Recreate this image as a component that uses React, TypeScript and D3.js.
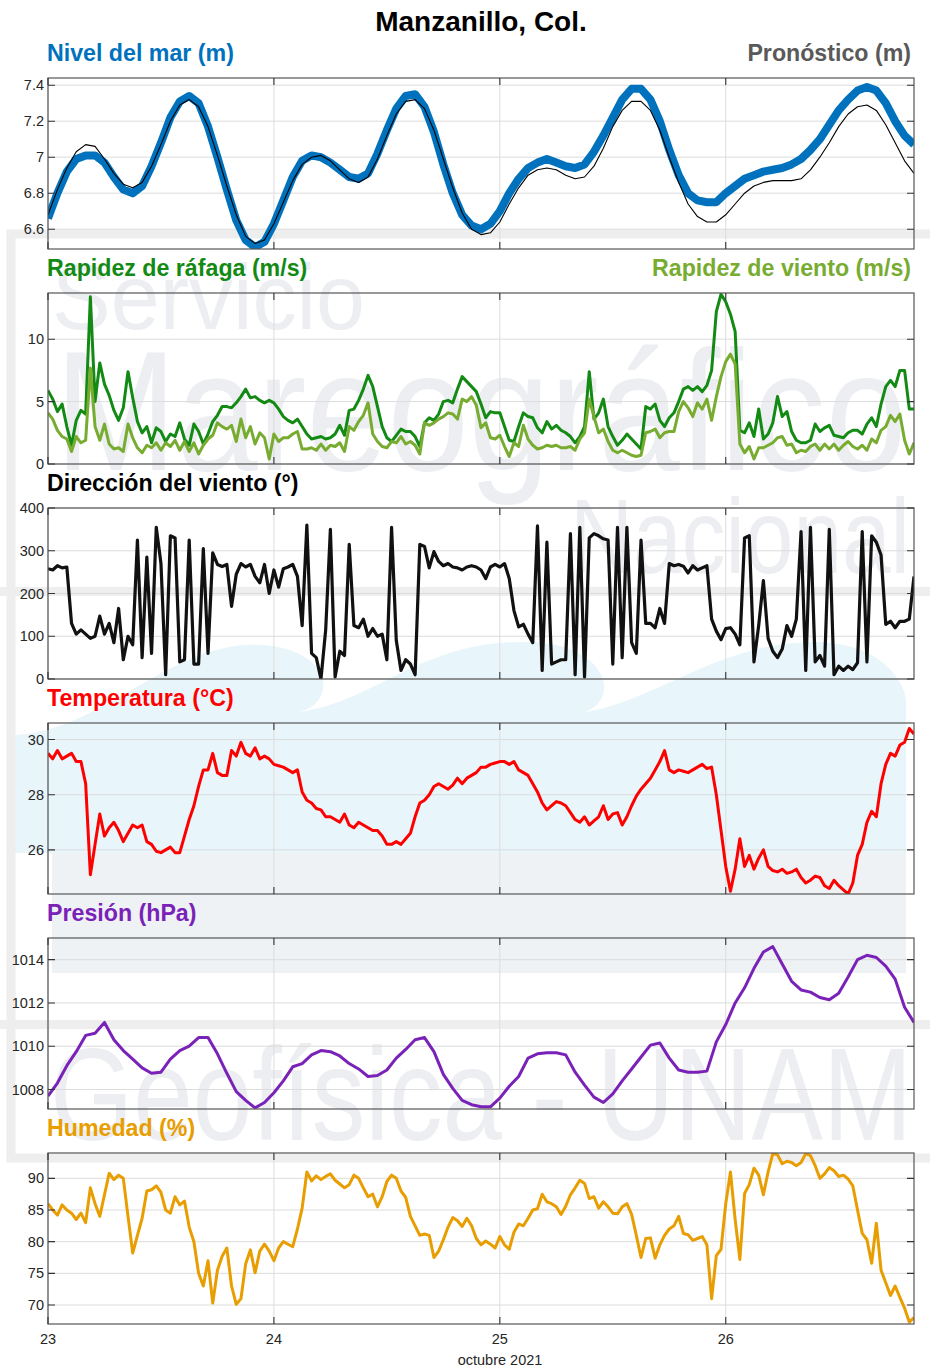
import React, { useEffect, useRef } from "react";
import * as d3 from "d3";

const start = new Date(2021, 9, 23, 0, 0);
const end = new Date(2021, 9, 26, 20, 0);

// nivel del mar observado y pronóstico, cada hora (m)
const seaLevel = [
  6.66, 6.8, 6.92, 6.99, 7.01, 7.01, 6.97, 6.89, 6.82, 6.8,
  6.84, 6.95, 7.08, 7.22, 7.31, 7.34, 7.3, 7.17, 7.0, 6.82,
  6.65, 6.54, 6.5, 6.53, 6.63, 6.76, 6.89, 6.98, 7.01, 7.0,
  6.97, 6.93, 6.89, 6.88, 6.91, 7.02, 7.15, 7.27, 7.34, 7.35,
  7.28, 7.14, 6.96, 6.8, 6.68, 6.62, 6.6, 6.63, 6.7, 6.8,
  6.88, 6.94, 6.97, 6.99, 6.97, 6.95, 6.94, 6.96, 7.03, 7.12,
  7.22, 7.32, 7.38, 7.38, 7.32, 7.2, 7.04, 6.9, 6.8, 6.76,
  6.75, 6.75, 6.8, 6.84, 6.88, 6.9, 6.92, 6.93, 6.94, 6.96,
  6.99, 7.04, 7.1, 7.18, 7.26, 7.32, 7.37, 7.39, 7.37, 7.3,
  7.2, 7.12, 7.07,
];
const tidePrediction = [
  6.68, 6.82, 6.94, 7.03, 7.07, 7.06, 6.99, 6.91, 6.85, 6.83,
  6.86, 6.95, 7.07, 7.2, 7.29, 7.32, 7.28, 7.17, 7.01, 6.84,
  6.68, 6.56, 6.52, 6.54, 6.63, 6.75, 6.87, 6.96, 7.0, 7.01,
  6.98, 6.93, 6.88, 6.86, 6.89, 6.99, 7.12, 7.24, 7.31, 7.32,
  7.27, 7.15, 6.99, 6.83, 6.69, 6.6, 6.57, 6.58, 6.64, 6.74,
  6.83, 6.9, 6.93, 6.94, 6.93, 6.9, 6.88, 6.89, 6.95, 7.05,
  7.17, 7.26, 7.31, 7.31, 7.26, 7.15, 7.0, 6.86, 6.74, 6.67,
  6.64, 6.64, 6.68, 6.74, 6.8, 6.84, 6.86, 6.87, 6.87, 6.87,
  6.88, 6.93, 7.0, 7.08, 7.17, 7.24, 7.28, 7.29, 7.26, 7.18,
  7.08, 6.98, 6.91,
];

// viento, cada 30 min (m/s)
const gustSpeed = [
  5.9, 5.2, 4.2, 4.8, 3.0, 1.5, 3.5, 4.3, 4.0, 13.4,
  5.0, 8.1, 6.4, 5.5, 4.3, 3.5, 4.5, 7.4, 5.3, 3.4,
  2.5, 3.0, 1.7, 2.9, 2.6, 1.8, 2.4, 2.2, 3.3, 2.0,
  1.5, 3.2, 2.6, 1.6, 2.4, 3.4, 3.9, 4.6, 4.6, 4.5,
  4.9, 5.4, 6.0, 5.3, 5.4, 5.1, 4.9, 5.1, 4.9, 4.4,
  3.8, 3.5, 3.3, 3.6, 3.0, 2.4, 2.0, 2.1, 2.2, 2.0,
  2.1, 2.4, 3.1, 2.3, 4.3, 4.4, 5.1, 6.0, 7.1, 6.2,
  4.6, 3.0, 2.1, 1.8, 2.3, 2.8, 2.6, 2.6, 2.2, 1.4,
  3.3, 3.7, 3.5, 4.0, 5.0, 5.1, 4.9, 6.0, 7.0, 6.6,
  6.2, 5.8, 4.8, 3.7, 4.2, 4.1, 4.1, 3.0, 1.9, 1.8,
  3.0, 4.1, 3.8, 3.7, 2.9, 2.5, 3.4, 2.8, 3.1, 2.7,
  2.5, 2.2, 1.7, 2.2, 3.0, 7.4, 3.6, 4.1, 5.2, 3.0,
  2.2, 1.5, 1.9, 2.4, 2.0, 1.6, 1.2, 4.6, 4.4, 4.8,
  3.5, 3.0, 3.7, 4.1, 5.0, 6.0, 6.2, 5.9, 6.2, 5.8,
  6.3, 7.5, 12.2, 13.6, 13.0, 12.0, 10.6, 2.7, 2.5, 3.3,
  2.2, 4.4, 2.0, 2.4, 3.3, 5.4, 3.8, 4.2, 2.6, 1.9,
  1.7, 1.7, 1.9, 3.2, 2.6, 2.9, 3.1, 2.3, 2.2, 2.1,
  2.5, 2.7, 2.7, 2.4, 3.2, 3.7, 3.0, 4.8, 6.2, 6.7,
  6.2, 7.5, 7.5, 4.4, 4.4,
];
const windSpeed = [
  4.1, 3.6, 2.7, 2.2, 2.0, 1.0, 2.2, 1.7, 1.9, 7.7,
  3.0, 1.9, 3.2, 1.6, 1.2, 1.3, 1.0, 3.2, 2.1, 1.3,
  0.9, 1.5, 1.3, 1.7, 1.1, 1.7, 1.4, 1.9, 1.1, 1.8,
  1.0, 1.7, 0.8, 1.5, 2.0, 2.3, 3.3, 3.0, 2.8, 3.1,
  1.8, 3.6, 2.1, 3.0, 1.6, 2.5, 2.1, 0.4, 2.4, 1.8,
  2.1, 2.1, 2.4, 2.6, 1.2, 1.2, 1.3, 1.1, 1.6, 1.1,
  1.5, 1.4, 1.7, 1.0, 3.0, 2.7, 3.4, 3.9, 4.9, 2.4,
  1.8, 1.4, 1.3, 1.8, 1.7, 2.2, 1.6, 1.8, 1.5, 0.8,
  3.3, 3.1, 3.3, 3.6, 3.8, 4.1, 4.0, 3.6, 5.2, 5.0,
  5.4, 4.7, 2.9, 3.3, 2.1, 2.0, 2.3, 1.4, 0.6, 1.7,
  1.4, 3.1, 2.0, 1.5, 1.2, 1.3, 1.5, 1.4, 1.5, 1.3,
  1.3, 1.4, 1.1, 2.0, 2.5, 5.2, 3.8, 2.5, 2.8, 1.8,
  1.1, 0.9, 1.1, 0.9, 0.7, 0.6, 0.7, 2.5, 2.6, 2.8,
  2.1, 2.5, 2.6, 2.6, 4.2, 5.0, 4.5, 3.8, 4.9, 4.4,
  5.2, 3.5, 5.4, 7.0, 8.2, 8.8, 8.0, 1.6, 0.9, 1.4,
  0.4, 1.3, 1.3, 1.5, 1.7, 2.1, 2.2, 1.5, 1.6, 0.9,
  1.1, 1.0, 1.4, 1.6, 1.1, 1.6, 1.2, 1.6, 1.1, 1.5,
  1.8, 1.4, 1.2, 1.5, 1.1, 2.0, 1.7, 2.7, 3.0, 3.9,
  3.4, 4.0, 1.9, 0.8, 1.7,
];

// dirección del viento, cada 30 min (°)
const windDirection = [
  258, 255, 265, 260, 262, 130, 105, 115, 105, 95,
  100, 147, 105, 130, 85, 165, 45, 100, 80, 325,
  50, 285, 60, 355, 270, 10, 335, 330, 40, 45,
  325, 35, 35, 305, 60, 295, 268, 263, 268, 170,
  245, 270, 262, 268, 240, 225, 268, 200, 255, 215,
  258, 262, 268, 240, 125, 360, 60, 50, 0, 115,
  350, 5, 65, 55, 315, 125, 120, 140, 100, 118,
  100, 105, 45, 355, 90, 20, 45, 35, 10, 315,
  310, 260, 298, 275, 265, 270, 262, 260, 255, 262,
  265, 262, 255, 235, 262, 268, 262, 270, 235, 160,
  122, 128, 105, 85, 358, 20, 320, 35, 40, 45,
  45, 340, 10, 355, 5, 330, 340, 335, 328, 325,
  35, 355, 50, 355, 85, 60, 325, 130, 130, 120,
  165, 130, 270, 265, 268, 264, 248, 265, 255, 260,
  265, 140, 112, 92, 118, 120, 105, 80, 330, 335,
  40, 125, 230, 95, 65, 50, 70, 125, 100, 140,
  345, 20, 355, 40, 55, 30, 350, 10, 30, 20,
  30, 22, 38, 345, 40, 335, 320, 290, 128, 135,
  120, 135, 135, 140, 240,
];

// temperatura, cada 30 min (°C)
const temperature = [
  29.5, 29.3, 29.6, 29.3, 29.4, 29.5, 29.2, 29.2, 28.4, 25.1,
  26.2, 27.3, 26.5, 26.8, 27.0, 26.7, 26.3, 26.6, 26.9, 26.8,
  26.9, 26.3, 26.2, 25.95, 25.9, 26.0, 26.1, 25.9, 25.9, 26.5,
  27.1, 27.6, 28.3, 28.9, 28.9, 29.5, 28.8, 28.7, 28.7, 29.6,
  29.4, 29.9, 29.5, 29.4, 29.7, 29.3, 29.4, 29.3, 29.1, 29.05,
  29.0, 28.9, 28.8, 28.9, 28.1, 27.8, 27.7, 27.5, 27.45, 27.2,
  27.2, 27.1, 27.0, 27.3, 26.9, 26.8, 27.0, 26.9, 26.8, 26.7,
  26.7, 26.5, 26.2, 26.2, 26.3, 26.2, 26.4, 26.6, 27.2, 27.7,
  27.8, 28.0, 28.3, 28.4, 28.3, 28.2, 28.35, 28.6, 28.4, 28.6,
  28.7, 28.8, 29.0, 29.0, 29.1, 29.15, 29.2, 29.2, 29.1, 29.2,
  28.9, 28.8, 28.7, 28.4, 28.1, 27.7, 27.45, 27.6, 27.75, 27.7,
  27.6, 27.35, 27.1, 27.0, 27.2, 26.9, 27.05, 27.2, 27.6, 27.1,
  27.3, 27.35, 26.9, 27.2, 27.6, 27.95, 28.2, 28.4, 28.6, 28.9,
  29.2, 29.6, 28.9, 28.8, 28.9, 28.85, 28.8, 28.9, 29.0, 29.1,
  28.95, 29.0, 28.0, 26.7, 25.4, 24.5, 25.3, 26.4, 25.4, 25.8,
  25.3, 25.7, 26.0, 25.4, 25.25, 25.2, 25.3, 25.15, 25.2, 25.3,
  25.0, 24.8, 24.9, 25.05, 25.0, 24.7, 24.6, 24.9, 24.7, 24.55,
  24.4, 24.8, 25.8, 26.2, 27.0, 27.4, 27.2, 28.4, 29.1, 29.5,
  29.4, 29.8, 29.9, 30.4, 30.2,
];

// presión, cada hora (hPa)
const pressure = [
  1007.7, 1008.3, 1009.1, 1009.75, 1010.5, 1010.6, 1011.1, 1010.3, 1009.8, 1009.4,
  1009.0, 1008.75, 1008.8, 1009.4, 1009.8, 1010.0, 1010.4, 1010.4, 1009.65, 1008.75,
  1007.9, 1007.5, 1007.15, 1007.4, 1007.85, 1008.4, 1009.05, 1009.2, 1009.6, 1009.8,
  1009.75, 1009.55, 1009.2, 1008.95, 1008.6, 1008.65, 1008.9, 1009.45, 1009.85, 1010.3,
  1010.4, 1009.75, 1008.7, 1008.05, 1007.5, 1007.3, 1007.2, 1007.2, 1007.6, 1008.15,
  1008.6, 1009.45, 1009.65, 1009.7, 1009.7, 1009.6, 1008.8, 1008.2, 1007.65, 1007.4,
  1007.8, 1008.4, 1008.95, 1009.5, 1010.05, 1010.15, 1009.45, 1008.9, 1008.8, 1008.8,
  1008.85, 1010.2, 1011.0, 1012.0, 1012.7, 1013.6, 1014.35, 1014.6, 1013.8, 1013.0,
  1012.6, 1012.5, 1012.25, 1012.15, 1012.45, 1013.2, 1014.0, 1014.2, 1014.1, 1013.7,
  1013.1, 1011.8, 1011.1,
];

// humedad, cada 30 min (%)
const humidity = [
  86.0, 85.0, 84.2, 85.8, 85.0, 84.5, 83.5, 84.5, 83.0, 88.5,
  86.0, 84.0, 87.4, 90.8, 89.8, 90.5, 90.0, 84.0, 78.2, 81.0,
  83.7, 88.0, 88.2, 88.8, 87.8, 85.0, 84.5, 87.1, 85.8, 86.4,
  82.3, 80.0, 75.0, 73.0, 77.0, 70.3, 75.5, 77.7, 79.0, 73.0,
  70.1, 71.0, 76.5, 78.7, 75.1, 78.5, 79.6, 78.5, 77.0, 79.0,
  80.0, 79.6, 79.2, 82.0, 85.3, 91.0, 89.6, 90.4, 89.8, 90.3,
  90.7, 89.7, 89.1, 88.5, 89.0, 90.5, 90.0, 88.5, 87.1, 87.5,
  85.5, 87.1, 89.5, 90.5, 90.0, 88.0, 87.0, 84.0, 82.5, 81.0,
  81.2, 81.0, 77.5, 78.5, 80.3, 82.3, 83.8, 83.3, 82.4, 83.7,
  82.5, 80.5, 79.5, 80.1, 79.6, 79.0, 80.8, 79.5, 78.8, 81.5,
  82.8, 82.5, 83.7, 85.0, 85.2, 87.5, 86.3, 86.0, 85.5, 84.3,
  85.6, 87.4, 88.5, 89.7, 89.2, 86.8, 87.1, 85.3, 86.3, 85.5,
  84.5, 84.4, 85.5, 86.0, 84.3, 81.0, 77.5, 80.5, 80.6, 77.4,
  79.5, 81.0, 82.0, 82.5, 84.0, 81.3, 81.1, 80.2, 80.5, 80.8,
  79.5, 71.0, 77.8, 78.8, 86.0, 91.0, 83.5, 77.2, 87.6, 89.0,
  91.6, 90.5, 87.4, 91.0, 93.9, 93.7, 92.3, 92.7, 92.5, 92.0,
  92.5, 93.9, 93.6, 92.0, 90.0, 90.7, 91.7, 91.2, 90.3, 90.5,
  89.9, 88.8, 85.0, 81.3, 80.3, 76.6, 82.9, 75.5, 73.5, 71.5,
  73.0, 71.2, 69.5, 67.3, 68.0,
];

const seaTicks = [6.6, 6.8, 7, 7.2, 7.4];
const windTicks = [0, 5, 10];
const dirTicks = [0, 100, 200, 300, 400];
const tempTicks = [26, 28, 30];
const presTicks = [1008, 1010, 1012, 1014];
const humTicks = [70, 75, 80, 85, 90];
const dayLabels = ["23", "24", "25", "26"];

const FONT = "'Liberation Sans', Arial, Helvetica, sans-serif";

const App = () => {
  const ref = useRef(null);

  useEffect(() => {
    const svg = d3.select(ref.current);
    svg.selectAll("*").remove();

    const left = 48;
    const right = 914;
    const panelH = 171;
    const x = d3.scaleTime().domain([start, end]).range([left, right]);
    const days = d3.timeDay.range(start, end);
    const hourly = (i) => d3.timeHour.offset(start, i);
    const halfHourly = (i) => d3.timeMinute.offset(start, 30 * i);

    // marca de agua del fondo
    const wm = svg.append("g");
    wm.append("path")
      .attr("d", "M 10 900 V 735 C 100 735 170 640 260 645 C 330 648 340 700 300 712 C 380 700 420 640 530 642 C 610 645 620 700 585 712 C 660 700 720 640 820 642 C 890 645 906 690 906 700 V 853 H 10 Z")
      .attr("fill", "#e8f5fb");
    wm.append("rect").attr("x", 52).attr("y", 853).attr("width", 854).attr("height", 120).attr("fill", "#eef2f5");
    wm.append("rect").attr("x", 11).attr("y", 234).attr("width", 940).attr("height", 924)
      .attr("fill", "none").attr("stroke", "#eeeeee").attr("stroke-width", 9);
    wm.append("rect").attr("x", 0).attr("y", 587).attr("width", 930).attr("height", 9).attr("fill", "#eeeeee");
    wm.append("rect").attr("x", 0).attr("y", 1020).attr("width", 930).attr("height", 9).attr("fill", "#eeeeee");
    const wmText = [
      { t: "Servicio", x: 52, y: 329, size: 92, len: 313 },
      { t: "Mareográfico", x: 55, y: 470, size: 170, len: 852 },
      { t: "Nacional", x: 570, y: 573, size: 106, len: 340 },
      { t: "Geofísica - UNAM", x: 50, y: 1140, size: 132, len: 862 },
    ];
    wm.selectAll("text.wm")
      .data(wmText)
      .join("text")
      .attr("class", "wm")
      .attr("x", (d) => d.x)
      .attr("y", (d) => d.y)
      .attr("font-size", (d) => d.size)
      .attr("textLength", (d) => d.len)
      .attr("lengthAdjust", "spacingAndGlyphs")
      .attr("font-family", FONT)
      .attr("fill", "#eceef1")
      .text((d) => d.t);

    svg.append("text")
      .attr("x", 481)
      .attr("y", 31)
      .attr("text-anchor", "middle")
      .attr("font-family", FONT)
      .attr("font-size", 28)
      .attr("font-weight", "bold")
      .attr("fill", "#000")
      .text("Manzanillo, Col.");

    const panels = [
      {
        top: 78, domain: [6.49, 7.44], ticks: seaTicks,
        title: "Nivel del mar (m)", titleColor: "#0072BD",
        title2: "Pronóstico (m)", title2Color: "#595959",
        lines: [
          { values: seaLevel, time: hourly, color: "#0072BD", width: 8 },
          { values: tidePrediction, time: hourly, color: "#000000", width: 1.1 },
        ],
      },
      {
        top: 293, domain: [0, 13.7], ticks: windTicks,
        title: "Rapidez de ráfaga (m/s)", titleColor: "#138a13",
        title2: "Rapidez de viento (m/s)", title2Color: "#77AC30",
        lines: [
          { values: gustSpeed, time: halfHourly, color: "#138a13", width: 3 },
          { values: windSpeed, time: halfHourly, color: "#77AC30", width: 3 },
        ],
      },
      {
        top: 508, domain: [0, 400], ticks: dirTicks,
        title: "Dirección del viento (°)", titleColor: "#000000",
        lines: [{ values: windDirection, time: halfHourly, color: "#111111", width: 3.2 }],
      },
      {
        top: 723, domain: [24.4, 30.6], ticks: tempTicks,
        title: "Temperatura (°C)", titleColor: "#ff0000",
        lines: [{ values: temperature, time: halfHourly, color: "#ff0000", width: 3 }],
      },
      {
        top: 938, domain: [1007.1, 1015.0], ticks: presTicks,
        title: "Presión (hPa)", titleColor: "#7a22b8",
        lines: [{ values: pressure, time: hourly, color: "#7a22b8", width: 3 }],
      },
      {
        top: 1153, domain: [67, 94], ticks: humTicks,
        title: "Humedad (%)", titleColor: "#e89d00",
        lines: [{ values: humidity, time: halfHourly, color: "#e89d00", width: 3 }],
      },
    ];

    panels.forEach((p, k) => {
      const top = p.top;
      const bottom = top + panelH;
      const y = d3.scaleLinear().domain(p.domain).range([bottom, top]);
      const g = svg.append("g");

      g.append("clipPath")
        .attr("id", `clip-${k}`)
        .append("rect")
        .attr("x", left)
        .attr("y", top)
        .attr("width", right - left)
        .attr("height", panelH);

      // rejilla
      g.selectAll("line.gy")
        .data(p.ticks)
        .join("line")
        .attr("class", "gy")
        .attr("x1", left).attr("x2", right)
        .attr("y1", (d) => y(d)).attr("y2", (d) => y(d))
        .attr("stroke", "#dcdcdc").attr("stroke-width", 1);
      g.selectAll("line.gx")
        .data(days)
        .join("line")
        .attr("class", "gx")
        .attr("x1", (d) => x(d)).attr("x2", (d) => x(d))
        .attr("y1", top).attr("y2", bottom)
        .attr("stroke", "#dcdcdc").attr("stroke-width", 1);

      const plot = g.append("g").attr("clip-path", `url(#clip-${k})`);
      p.lines.forEach((s) => {
        const line = d3.line()
          .x((d, i) => x(s.time(i)))
          .y((d) => y(d));
        plot.append("path")
          .attr("d", line(s.values))
          .attr("fill", "none")
          .attr("stroke", s.color)
          .attr("stroke-width", s.width)
          .attr("stroke-linejoin", "round");
      });

      // marco y marcas
      g.append("rect")
        .attr("x", left).attr("y", top)
        .attr("width", right - left).attr("height", panelH)
        .attr("fill", "none").attr("stroke", "#555555").attr("stroke-width", 1.2);
      const tl = 7;
      g.selectAll("path.ty")
        .data(p.ticks)
        .join("path")
        .attr("class", "ty")
        .attr("d", (d) => `M${left},${y(d)}h${tl}M${right},${y(d)}h${-tl}`)
        .attr("stroke", "#333").attr("stroke-width", 1.1);
      g.selectAll("path.tx")
        .data(days)
        .join("path")
        .attr("class", "tx")
        .attr("d", (d) => `M${x(d)},${bottom}v${-tl}M${x(d)},${top}v${tl}`)
        .attr("stroke", "#333").attr("stroke-width", 1.1);

      g.selectAll("text.yl")
        .data(p.ticks)
        .join("text")
        .attr("class", "yl")
        .attr("x", left - 4)
        .attr("y", (d) => y(d))
        .attr("dy", "0.35em")
        .attr("text-anchor", "end")
        .attr("font-family", FONT)
        .attr("font-size", 14.5)
        .attr("fill", "#262626")
        .text((d) => d3.format("~g")(d));

      g.append("text")
        .attr("x", 47)
        .attr("y", top - 17)
        .attr("font-family", FONT)
        .attr("font-size", 23.2)
        .attr("font-weight", "bold")
        .attr("fill", p.titleColor)
        .text(p.title);
      if (p.title2) {
        g.append("text")
          .attr("x", 911)
          .attr("y", top - 17)
          .attr("text-anchor", "end")
          .attr("font-family", FONT)
          .attr("font-size", 23.2)
          .attr("font-weight", "bold")
          .attr("fill", p.title2Color)
          .text(p.title2);
      }

      if (k === panels.length - 1) {
        g.selectAll("text.xl")
          .data(days)
          .join("text")
          .attr("class", "xl")
          .attr("x", (d) => x(d))
          .attr("y", bottom + 20)
          .attr("text-anchor", "middle")
          .attr("font-family", FONT)
          .attr("font-size", 14.5)
          .attr("fill", "#262626")
          .text((d, i) => dayLabels[i]);
        g.append("text")
          .attr("x", 500)
          .attr("y", bottom + 41)
          .attr("text-anchor", "middle")
          .attr("font-family", FONT)
          .attr("font-size", 14.5)
          .attr("fill", "#262626")
          .text("octubre 2021");
      }
    });
  }, []);

  return (
    <svg
      ref={ref}
      width={930}
      height={1370}
      style={{ position: "absolute", left: 0, top: 0, background: "#fff" }}
    ></svg>
  );
};

export default App;
